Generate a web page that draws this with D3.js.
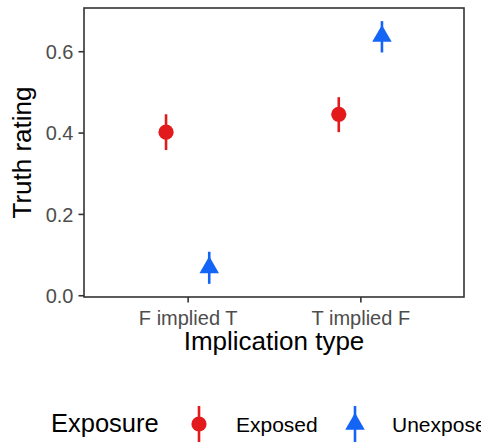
<!DOCTYPE html>
<html lang="en">
<head>
  <meta charset="UTF-8">
  <title>Truth rating by implication type</title>
  <style>
    body { margin: 0; background: #fff; font-family: "Liberation Sans", Arial, sans-serif; }
    svg { display: block; }
  </style>
</head>
<body>
  <svg width="481" height="444"></svg>
  <script src="https://d3js.org/d3.v7.min.js"></script>
  <script>
  const categories = ["F implied T", "T implied F"];
  const groups = ["Exposed", "Unexposed"];
  const means = { Exposed: [0.401, 0.445], Unexposed: [0.068, 0.637] };
  const lower = { Exposed: [0.357, 0.401], Unexposed: [0.028, 0.597] };
  const upper = { Exposed: [0.445, 0.487], Unexposed: [0.107, 0.674] };
  const yTicks = [0, 0.2, 0.4, 0.6];
  const colors = { Exposed: "#e31a1c", Unexposed: "#1464f6" };

  const svg = d3.select("svg");
  const panel = { left: 84, top: 8, right: 464, bottom: 297 };

  const rows = [];
  groups.forEach(g => categories.forEach((c, i) => rows.push({
    group: g, cat: c, mean: means[g][i], lo: lower[g][i], hi: upper[g][i]
  })));

  // ggplot-style 5% expansion of the data range
  const lo = d3.min(rows, d => d.lo), hi = d3.max(rows, d => d.hi);
  const pad = (hi - lo) * 0.05;
  const y = d3.scaleLinear().domain([lo - pad, hi + pad]).range([panel.bottom, panel.top]);
  const x = d3.scalePoint().domain(categories).range([panel.left, panel.right]).padding(0.6);
  const dodge = x.step() * 0.125;
  const off = g => g === "Exposed" ? -dodge : dodge;

  // axes
  const yAxis = svg.append("g")
    .attr("transform", `translate(${panel.left},0)`)
    .call(d3.axisLeft(y).tickValues(yTicks).tickFormat(d3.format(".1f")).tickSize(5.5).tickPadding(5));
  const xAxis = svg.append("g")
    .attr("transform", `translate(0,${panel.bottom})`)
    .call(d3.axisBottom(x).tickSize(5.5).tickPadding(8));
  [yAxis, xAxis].forEach(a => {
    a.attr("font-family", null).attr("font-size", null);
    a.select(".domain").remove();
    a.selectAll(".tick line").attr("stroke", "#333").attr("stroke-width", 1.6);
    a.selectAll(".tick text").attr("fill", "#4d4d4d").attr("font-size", 20);
  });
  yAxis.selectAll(".tick text").attr("dy", "0.36em");

  svg.append("rect")
    .attr("x", panel.left).attr("y", panel.top)
    .attr("width", panel.right - panel.left).attr("height", panel.bottom - panel.top)
    .attr("fill", "none").attr("stroke", "#333").attr("stroke-width", 1.6);

  // error bars and points
  const marks = svg.append("g");
  marks.selectAll("line.err").data(rows).join("line")
    .attr("class", "err")
    .attr("x1", d => x(d.cat) + off(d.group)).attr("x2", d => x(d.cat) + off(d.group))
    .attr("y1", d => y(d.lo)).attr("y2", d => y(d.hi))
    .attr("stroke", d => colors[d.group]).attr("stroke-width", 2.6);

  const circle = d3.symbol().type(d3.symbolCircle).size(Math.PI * 7.6 * 7.6);
  const tri = d3.symbol().type(d3.symbolTriangle).size(165);
  const shape = g => g === "Exposed" ? circle() : tri();

  marks.selectAll("path.pt").data(rows).join("path")
    .attr("class", "pt")
    .attr("d", d => shape(d.group))
    .attr("transform", d => `translate(${x(d.cat) + off(d.group)},${y(d.mean)})`)
    .attr("fill", d => colors[d.group]);

  // axis titles
  svg.append("text")
    .attr("x", (panel.left + panel.right) / 2).attr("y", 349.5)
    .attr("text-anchor", "middle").attr("font-size", 26).attr("fill", "#000")
    .text("Implication type");
  svg.append("text")
    .attr("transform", `translate(30.5,${(panel.top + panel.bottom) / 2}) rotate(-90)`)
    .attr("text-anchor", "middle").attr("font-size", 26).attr("fill", "#000")
    .text("Truth rating");

  // legend
  const legend = svg.append("g");
  legend.append("text").attr("x", 51).attr("y", 432)
    .attr("font-size", 25.5).attr("fill", "#000").text("Exposure");
  const keyX = [199, 355];
  groups.forEach((g, i) => {
    const k = legend.append("g").attr("transform", `translate(${keyX[i]},424)`);
    k.append("line").attr("y1", -18).attr("y2", 18)
      .attr("stroke", colors[g]).attr("stroke-width", 2.6);
    k.append("path").attr("d", shape(g)).attr("fill", colors[g]);
    legend.append("text").attr("x", keyX[i] + 37).attr("y", 432)
      .attr("font-size", 21).attr("fill", "#000").text(g);
  });
  </script>
</body>
</html>
